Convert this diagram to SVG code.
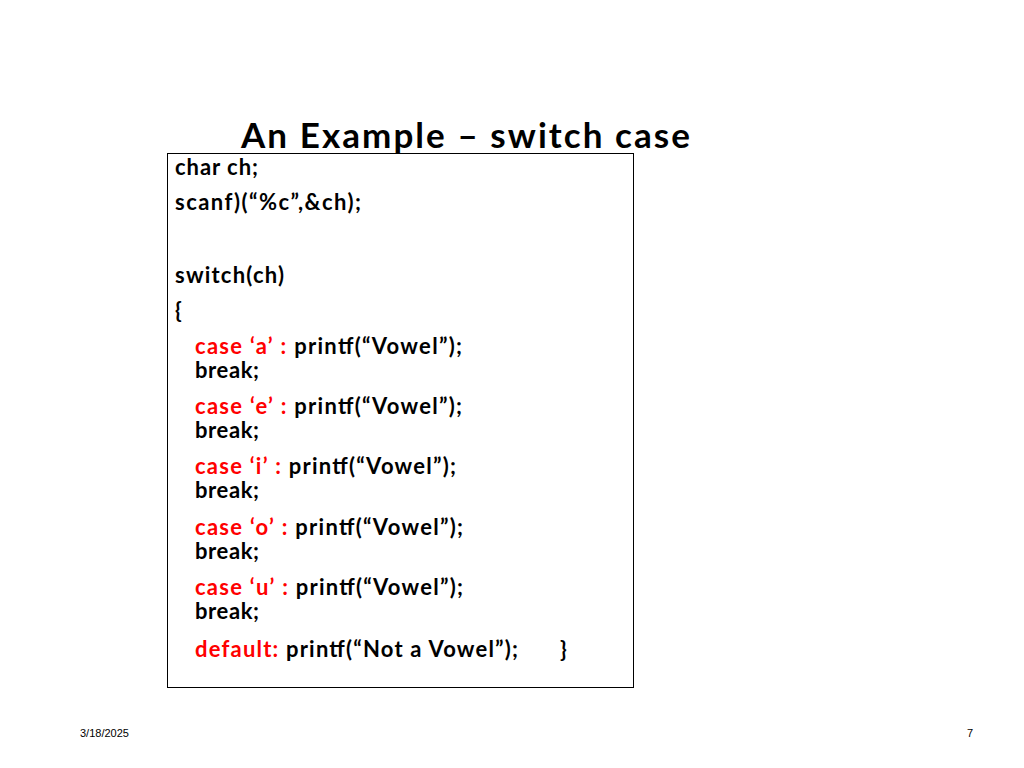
<svg xmlns="http://www.w3.org/2000/svg" width="1024" height="768" viewBox="0 0 1024 768">
<style>
text{font-family:Lato,"Open Sans","Liberation Sans",sans-serif;font-weight:bold;fill:#000}
.c{font-size:22px}
.r{fill:#ff0000}
.s{font-family:"Liberation Sans",Arial,sans-serif;font-weight:normal;font-size:11px}
</style>
<rect width="1024" height="768" fill="#fff"/>
<g id="box"><rect x="167.5" y="153.5" width="466" height="534" fill="none" stroke="#000" stroke-width="1"/></g>
<g id="title"><text x="241" y="148" font-size="35" textLength="449" lengthAdjust="spacing">An Example – switch case</text></g>
<g id="code">
<text class="c" x="175" y="175" textLength="83">char ch;</text>
<text class="c" x="175" y="210" textLength="186">scanf)(“%c”,&amp;ch);</text>
<text class="c" x="175" y="283" textLength="109">switch(ch)</text>
<text class="c" x="175" y="318">{</text>
<text class="c" x="195" y="354" textLength="267"><tspan class="r">case ‘a’ : </tspan>printf(“Vowel”);</text>
<text class="c" x="195" y="378" textLength="64">break;</text>
<text class="c" x="195" y="414" textLength="267"><tspan class="r">case ‘e’ : </tspan>printf(“Vowel”);</text>
<text class="c" x="195" y="438" textLength="64">break;</text>
<text class="c" x="195" y="474" textLength="261"><tspan class="r">case ‘i’ : </tspan>printf(“Vowel”);</text>
<text class="c" x="195" y="498" textLength="64">break;</text>
<text class="c" x="195" y="535" textLength="268"><tspan class="r">case ‘o’ : </tspan>printf(“Vowel”);</text>
<text class="c" x="195" y="559" textLength="64">break;</text>
<text class="c" x="195" y="595" textLength="268"><tspan class="r">case ‘u’ : </tspan>printf(“Vowel”);</text>
<text class="c" x="195" y="619" textLength="64">break;</text>
<text class="c" x="195" y="657" textLength="323"><tspan class="r">default: </tspan>printf(“Not a Vowel”);</text>
<text class="c" x="560" y="657">}</text>
</g>
<text class="s" x="80" y="737">3/18/2025</text>
<text class="s" x="967" y="737">7</text>
</svg>
